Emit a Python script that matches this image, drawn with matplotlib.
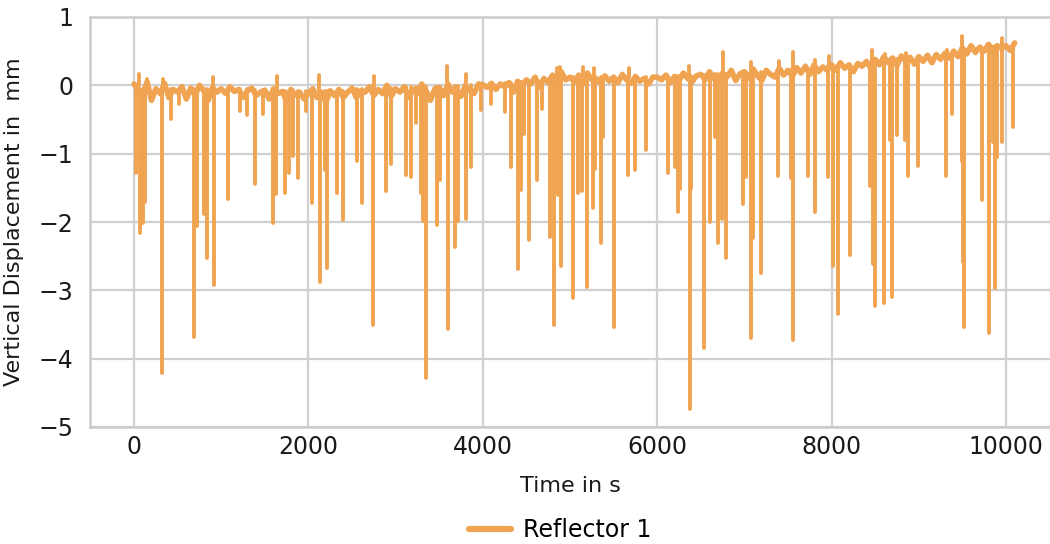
import numpy as np
import matplotlib
matplotlib.use("Agg")
import matplotlib.pyplot as plt

# baseline readings every 50 s (0 ... 10100 s)
base_step = 50
base_disp = [
    0.02, -0.08, -0.15, 0.05, -0.22, -0.05, -0.12, 0.03, -0.18, -0.06,
    -0.10, -0.02, -0.20, -0.04, -0.15, 0.00, -0.08, -0.22, -0.03, -0.10,
    -0.05, -0.12, -0.02, -0.09, -0.06, -0.18, -0.08, -0.04, -0.15, -0.10,
    -0.07, -0.20, -0.05, -0.12, -0.09, -0.24, -0.06, -0.14, -0.10, -0.20,
    -0.12, -0.05, -0.18, -0.10, -0.25, -0.08, -0.15, -0.06, -0.18, -0.10,
    -0.04, -0.18, -0.08, -0.10, -0.02, -0.15, -0.06, -0.12, 0.00, -0.16,
    -0.05, -0.10, -0.02, -0.18, -0.06, -0.12, 0.02, -0.08, -0.22, -0.05,
    -0.03, -0.15, 0.02, -0.10, -0.05, -0.16, 0.00, -0.08, -0.12, 0.02,
    0.01, -0.03, 0.03, -0.06, 0.02, -0.02, 0.04, -0.10, 0.06, 0.00,
    0.08, 0.02, 0.12, -0.03, 0.10, 0.04, 0.15, 0.06, 0.20, 0.08,
    0.12, 0.05, 0.15, 0.02, 0.18, 0.08, 0.10, 0.03, 0.14, 0.06,
    0.12, 0.04, 0.16, 0.08, 0.03, 0.13, 0.06, 0.10, 0.02, 0.12,
    0.12, 0.08, 0.15, 0.04, 0.13, 0.07, 0.18, 0.10, 0.05, 0.14,
    0.16, 0.08, 0.20, 0.10, 0.04, 0.18, 0.12, 0.22, 0.07, 0.17,
    0.20, 0.10, 0.24, 0.14, 0.07, 0.22, 0.16, 0.12, 0.25, 0.15,
    0.22, 0.13, 0.26, 0.18, 0.28, 0.16, 0.30, 0.20, 0.27, 0.22,
    0.30, 0.22, 0.33, 0.25, 0.30, 0.20, 0.32, 0.28, 0.35, 0.25,
    0.38, 0.30, 0.42, 0.33, 0.40, 0.29, 0.43, 0.36, 0.41, 0.31,
    0.42, 0.35, 0.44, 0.33, 0.45, 0.38, 0.47, 0.40, 0.50, 0.42,
    0.55, 0.46, 0.58, 0.48, 0.56, 0.50, 0.60, 0.52, 0.58, 0.54,
    0.58, 0.51, 0.62,
]

# single-sample spikes: time (s), spike tip (mm), level of the trace around it (mm)
spike_time = [
    23, 60, 72, 99, 130, 145, 317, 330, 424, 519, 691, 722, 806, 836, 900, 913,
    1073, 1218, 1290, 1390, 1474, 1589, 1627, 1640, 1734, 1780, 1826, 1875,
    1970, 2039, 2120, 2135, 2188, 2218, 2333, 2402, 2562, 2612, 2741, 2750,
    2887, 2944, 3124, 3177, 3230, 3295, 3318, 3345, 3479, 3509, 3590, 3597,
    3681, 3719, 3803, 3810, 3860, 3975, 4089, 4250, 4322, 4406, 4441, 4471,
    4525, 4624, 4674, 4765, 4815, 4850, 4860, 4880, 4899, 5030, 5089, 5140,
    5150, 5197, 5262, 5270, 5292, 5350, 5376, 5506, 5666, 5680, 5750, 5876,
    6125, 6208, 6235, 6258, 6360, 6373, 6385, 6541, 6602, 6667, 6697, 6743,
    6750, 6789, 6979, 7018, 7071, 7080, 7099, 7190, 7388, 7400, 7533, 7552,
    7560, 7728, 7806, 7815, 7957, 7965, 8022, 8079, 8213, 8442, 8460, 8473,
    8503, 8603, 8610, 8671, 8698, 8755, 8843, 8850, 8874, 8988, 9316, 9320,
    9378, 9492, 9500, 9504, 9523, 9729, 9809, 9847, 9874, 9893, 9958, 9960,
    10077,
]
spike_disp = [
    -1.29, 0.17, -2.16, -2.02, -1.70, 0.09, -4.21, 0.10, -0.49, -0.28, -3.68, -2.06, -1.88, -2.52, 0.12, -2.92,
    -1.67, -0.37, -0.44, -1.44, -0.42, -2.02, -1.59, 0.13, -1.57, -1.29, -1.03, -1.35,
    -0.37, -1.72, 0.15, -2.88, -1.24, -2.67, -1.58, -1.97, -1.10, -1.72, -3.51, 0.13,
    -1.54, -1.15, -1.31, -1.34, -0.55, -1.58, -1.98, -4.28, -2.05, -1.39, 0.28, -3.57,
    -2.37, -1.98, -1.96, 0.17, -1.19, -0.36, -0.27, -0.39, -1.19, -2.69, -1.53, -0.71,
    -2.27, -1.39, -0.35, -2.22, -3.51, 0.26, -1.61, 0.27, -2.65, -3.11, -1.58, -1.54,
    0.27, -2.95, -1.79, 0.25, -1.22, -2.31, -0.76, -3.53, -1.31, 0.26, -1.24, -0.95,
    -1.29, -1.19, -1.85, -1.51, 0.29, -4.73, -1.51, -3.85, -2.00, -0.76, -2.31, -1.95,
    0.49, -2.53, -1.74, -1.34, -3.70, 0.34, -2.24, -2.75, -1.33, 0.35, -1.36, -3.73,
    0.49, -1.33, -1.85, 0.37, -1.34, 0.43, -2.65, -3.35, -2.49, -1.48, 0.52, -2.61,
    -3.23, -3.19, 0.46, -0.80, -3.10, -0.72, -0.80, 0.47, -1.33, -1.18, -1.32, 0.52,
    -0.42, -1.10, 0.72, -2.58, -3.53, -1.68, -3.63, -0.83, -2.97, -1.05, -0.83, 0.70,
    -0.61,
]
spike_base = [
    0.00, 0.00, -0.05, -0.05, -0.05, -0.05, -0.05, -0.05, -0.05, -0.05, -0.05, -0.05, -0.05, -0.05, -0.05, -0.05,
    -0.06, -0.06, -0.06, -0.07, -0.07, -0.08, -0.08, -0.08, -0.08, -0.08, -0.08, -0.08,
    -0.09, -0.09, -0.09, -0.09, -0.09, -0.09, -0.08, -0.08, -0.06, -0.06, -0.05, -0.05,
    -0.04, -0.04, -0.03, -0.03, -0.03, -0.03, -0.03, -0.03, -0.02, -0.02, -0.02, -0.02,
    -0.01, -0.01, 0.00, 0.00, 0.00, 0.00, 0.01, 0.03, 0.03, 0.05, 0.05, 0.05,
    0.06, 0.07, 0.08, 0.10, 0.10, 0.10, 0.10, 0.10, 0.10, 0.12, 0.12, 0.12,
    0.12, 0.12, 0.12, 0.12, 0.12, 0.12, 0.12, 0.12, 0.12, 0.12, 0.12, 0.12,
    0.12, 0.13, 0.13, 0.13, 0.14, 0.14, 0.14, 0.15, 0.16, 0.16, 0.16, 0.17,
    0.17, 0.17, 0.19, 0.19, 0.20, 0.20, 0.20, 0.20, 0.21, 0.21, 0.22, 0.22,
    0.22, 0.24, 0.25, 0.25, 0.28, 0.28, 0.29, 0.30, 0.30, 0.33, 0.33, 0.34,
    0.36, 0.37, 0.37, 0.38, 0.38, 0.39, 0.40, 0.40, 0.40, 0.42, 0.45, 0.45,
    0.46, 0.50, 0.50, 0.50, 0.52, 0.55, 0.56, 0.56, 0.57, 0.57, 0.58, 0.58,
    0.60,
]

base_time = np.arange(len(base_disp)) * base_step
color = '#f0a452'

plt.rcParams['font.family'] = ['DejaVu Sans']
fig = plt.figure(figsize=(10.5, 5.44), dpi=100)
ax = fig.add_axes([90 / 1050, 1 - 427 / 544, 1 - 90 / 1050, 410 / 544])

ax.plot(base_time, base_disp, color=color, lw=4.0, label='Reflector 1',
        solid_joinstyle='round', solid_capstyle='round')
ax.vlines(spike_time, spike_disp, spike_base, color=color, lw=2.8, capstyle='round')

ax.set_xlim(-505, 10505)
ax.set_ylim(-5, 1)
ax.set_xticks([0, 2000, 4000, 6000, 8000, 10000])
ax.set_yticks([-5, -4, -3, -2, -1, 0, 1])
ax.grid(True, color='#d0d0d0', lw=1.6)
ax.set_axisbelow(True)
for s in ['left', 'top', 'bottom']:
    ax.spines[s].set_color('#cccccc')
    ax.spines[s].set_linewidth(1.8)
ax.spines['right'].set_visible(False)
ax.tick_params(length=0, labelsize=17, colors='#1a1a1a')
ax.tick_params(axis='y', pad=12)
ax.tick_params(axis='x', pad=6)

ax.set_xlabel('Time in s', fontsize=16, color='#1a1a1a', labelpad=12)
ax.set_ylabel('Vertical Displacement in  mm', fontsize=16, color='#1a1a1a', labelpad=10)

leg = fig.legend(loc='center', bbox_to_anchor=(560 / 1050, 1 - 530 / 544), frameon=False,
                 fontsize=17, handlelength=1.8, handletextpad=0.5)
for h in leg.get_lines():
    h.set_linewidth(4.5)

fig.savefig('out.png', dpi=100)
